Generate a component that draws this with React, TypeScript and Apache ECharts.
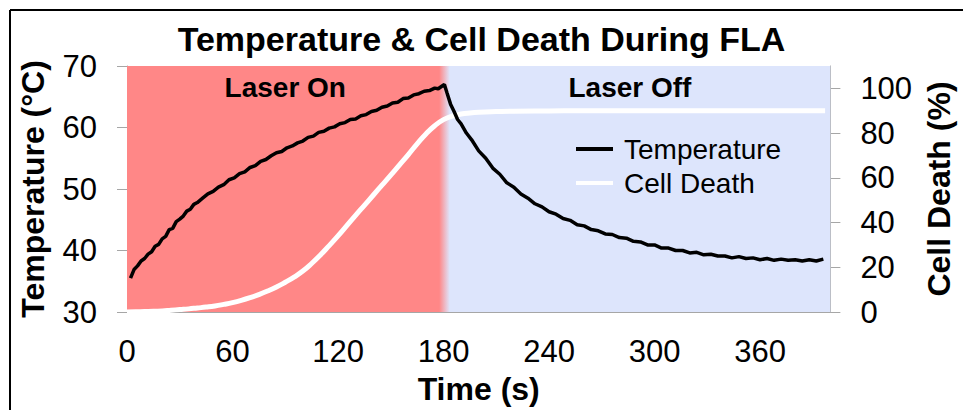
import React, { useEffect, useRef } from "react";
import * as echarts from "echarts";

// Measured tissue temperature (°C) while the laser is on: [time s, temp]
const heatingTemperature: [number, number][] = [
  [2, 35.5], [3, 36.2], [4, 36.9], [6, 37.5], [8, 38.3], [10, 38.7], [12, 39.4],
  [14, 39.8], [16, 40.7], [18, 41.0], [20, 41.9], [22, 42.3], [24, 43.4], [26, 43.6],
  [28, 44.7], [30, 45.1], [32, 45.6], [34, 46.4], [36, 46.7], [38, 47.5], [40, 47.8],
  [43, 48.5], [46, 49.2], [49, 49.6], [52, 50.3], [55, 50.7], [58, 51.5], [61, 51.8],
  [64, 52.5], [67, 52.8], [70, 53.5], [73, 53.8], [76, 54.5], [79, 54.8], [82, 55.4],
  [85, 55.9], [88, 56.1], [91, 56.7], [94, 57.0], [97, 57.5], [100, 57.8], [103, 58.4],
  [106, 58.6], [109, 59.2], [112, 59.4], [115, 59.9], [118, 60.1], [121, 60.6],
  [124, 60.8], [127, 61.3], [130, 61.4], [133, 61.9], [136, 62.1], [139, 62.6],
  [142, 62.8], [145, 63.3], [148, 63.5], [151, 64.0], [154, 64.1], [157, 64.7],
  [160, 64.8], [163, 65.3], [166, 65.5], [169, 65.9], [172, 66.0], [175, 66.4],
  [177, 66.3], [179, 66.7], [180.5, 67.0],
];

// Measured tissue temperature (°C) after the laser is switched off
const coolingTemperature: [number, number][] = [
  [182, 65.6], [184, 63.8], [186, 62.6], [188, 61.3], [190, 60.6], [193, 59.1],
  [196, 58.0], [200, 56.2], [204, 55.0], [208, 53.4], [212, 52.4], [216, 51.0],
  [220, 50.3], [224, 49.2], [228, 48.5], [232, 47.6], [236, 47.1], [240, 46.3],
  [244, 45.9], [248, 45.2], [252, 44.9], [256, 44.2], [260, 44.0], [264, 43.4],
  [268, 43.2], [272, 42.7], [276, 42.6], [280, 42.1], [284, 42.0], [288, 41.5],
  [292, 41.4], [296, 40.9], [300, 40.9], [304, 40.4], [308, 40.4], [312, 40.0],
  [316, 40.0], [320, 39.6], [324, 39.7], [328, 39.3], [332, 39.4], [336, 39.1],
  [340, 39.1], [344, 38.8], [348, 39.0], [352, 38.7], [356, 38.8], [360, 38.5],
  [364, 38.7], [368, 38.4], [372, 38.6], [376, 38.4], [380, 38.5], [384, 38.3],
  [388, 38.5], [392, 38.3], [396, 38.6],
];

// Predicted cell death (%): [time s, percent]
const cellDeath: [number, number][] = [
  [0, 0], [5, 0.1], [10, 0.2], [15, 0.3], [20, 0.5], [25, 0.8], [30, 1.1], [35, 1.4],
  [40, 1.8], [45, 2.2], [50, 2.7], [55, 3.4], [60, 4.2], [65, 5.2], [70, 6.4],
  [75, 7.8], [80, 9.4], [85, 11.2], [90, 13.3], [95, 15.6], [100, 18.3], [105, 21.7],
  [110, 25.5], [115, 29.7], [120, 34.0], [125, 38.6], [130, 43.2], [135, 47.7],
  [140, 52.2], [145, 56.7], [150, 61.2], [155, 65.8], [160, 70.4], [165, 75.2],
  [170, 79.6], [175, 83.3], [180, 86.0], [185, 87.6], [190, 88.5], [195, 89.0],
  [200, 89.3], [210, 89.6], [220, 89.8], [240, 89.9], [260, 90.0], [300, 90.0],
  [350, 90.0], [397, 90.0],
];

const timeTicks = [0, 60, 120, 180, 240, 300, 360];
const temperatureTicks = [30, 40, 50, 60, 70];
const deathTicks = [0, 20, 40, 60, 80, 100];

const LASER_OFF_AT = 180;
const FONT = '"Liberation Sans", Arial, Helvetica, sans-serif';
const RED = "#FF8787";
const BLUE = "#DDE5FC";
const AXIS_GRAY = "#A6A6A6";

export default function App() {
  const ref = useRef<HTMLDivElement>(null);

  useEffect(() => {
    if (!ref.current) return;
    const chart = echarts.init(ref.current, undefined, { renderer: "svg" });

    const tickStyle = { show: true, length: 10, lineStyle: { color: AXIS_GRAY, width: 1 } };
    const axisLine = { show: true, lineStyle: { color: AXIS_GRAY, width: 1 } };
    const tickLabel = { color: "#000", fontSize: 31, fontFamily: FONT };
    const axisName = { color: "#000", fontSize: 32, fontWeight: "bold" as const, fontFamily: FONT };

    const backdrop = new echarts.graphic.LinearGradient(0, 0, 1, 0, [
      { offset: 0, color: RED },
      { offset: 177.5 / 400, color: RED },
      { offset: 183.5 / 400, color: BLUE },
      { offset: 1, color: BLUE },
    ]);

    chart.setOption({
      animation: false,
      title: {
        text: "Temperature & Cell Death During FLA",
        left: "center",
        top: 17,
        textStyle: { color: "#000", fontSize: 34, fontWeight: "bold", fontFamily: FONT },
      },
      graphic: [
        { type: "line", shape: { x1: 10, y1: 10, x2: 970, y2: 10 }, style: { stroke: "#000", lineWidth: 2 } },
        { type: "line", shape: { x1: 10, y1: 10, x2: 10, y2: 420 }, style: { stroke: "#000", lineWidth: 2 } },
      ],
      legend: {
        orient: "vertical",
        left: 571,
        top: 130,
        itemWidth: 37,
        itemHeight: 4,
        itemGap: 6,
        itemStyle: { borderWidth: 0 },
        textStyle: { color: "#000", fontSize: 28, fontFamily: FONT, padding: [0, 0, 0, 6] },
        data: [
          { name: "Temperature", icon: "rect", itemStyle: { color: "#000", borderWidth: 0 } },
          { name: "Cell Death", icon: "rect", itemStyle: { color: "#FFFFFF", borderWidth: 0 } },
        ],
      },
      grid: { left: 127, right: 128, top: 66, bottom: 97, containLabel: false },
      xAxis: {
        type: "value",
        min: 0,
        max: 400,
        interval: 60,
        name: "Time (s)",
        nameLocation: "middle",
        nameGap: 61,
        nameTextStyle: axisName,
        axisLine,
        axisTick: { show: false },
        splitLine: { show: false },
        axisLabel: { ...tickLabel, margin: 24, customValues: timeTicks },
      },
      yAxis: [
        {
          type: "value",
          min: 30,
          max: 70,
          interval: 10,
          position: "left",
          name: "Temperature (°C)",
          nameLocation: "middle",
          nameGap: 78,
          nameTextStyle: axisName,
          axisLine,
          axisTick: { ...tickStyle, customValues: temperatureTicks },
          splitLine: { show: false },
          axisLabel: { ...tickLabel, margin: 30, customValues: temperatureTicks },
        },
        {
          type: "value",
          min: 0,
          max: 110,
          interval: 20,
          position: "right",
          name: "Cell Death (%)",
          nameLocation: "middle",
          nameGap: 90,
          nameTextStyle: axisName,
          axisLine,
          axisTick: { ...tickStyle, customValues: deathTicks },
          splitLine: { show: false },
          axisLabel: { ...tickLabel, margin: 30, customValues: deathTicks },
        },
      ],
      series: [
        {
          name: "Temperature",
          type: "line",
          yAxisIndex: 0,
          data: [...heatingTemperature, ...coolingTemperature],
          showSymbol: false,
          symbol: "none",
          color: "#000",
          lineStyle: { color: "#000", width: 3.5 },
          z: 3,
          markArea: {
            silent: true,
            label: {
              show: true,
              position: "insideTop",
              distance: 7,
              color: "#000",
              fontSize: 28,
              fontWeight: "bold",
              fontFamily: FONT,
            },
            data: [
              [
                { xAxis: 0, itemStyle: { color: backdrop }, label: { show: false } },
                { xAxis: 400 },
              ],
              [
                { name: "Laser On", xAxis: 0, itemStyle: { color: "rgba(0,0,0,0)" } },
                { xAxis: LASER_OFF_AT },
              ],
              [
                { name: "Laser Off", xAxis: LASER_OFF_AT, itemStyle: { color: "rgba(0,0,0,0)" }, label: { offset: [-7, 0] } },
                { xAxis: 400 },
              ],
            ],
          },
        },
        {
          name: "Cell Death",
          type: "line",
          yAxisIndex: 1,
          data: cellDeath,
          smooth: true,
          showSymbol: false,
          symbol: "none",
          color: "#FFFFFF",
          lineStyle: { color: "#FFFFFF", width: 5 },
          z: 2,
        },
      ],
    });

    return () => chart.dispose();
  }, []);

  return (
    <div
      ref={ref}
      style={{ position: "fixed", left: 0, top: 0, width: 963, height: 410, background: "#fff" }}
    />
  );
}
